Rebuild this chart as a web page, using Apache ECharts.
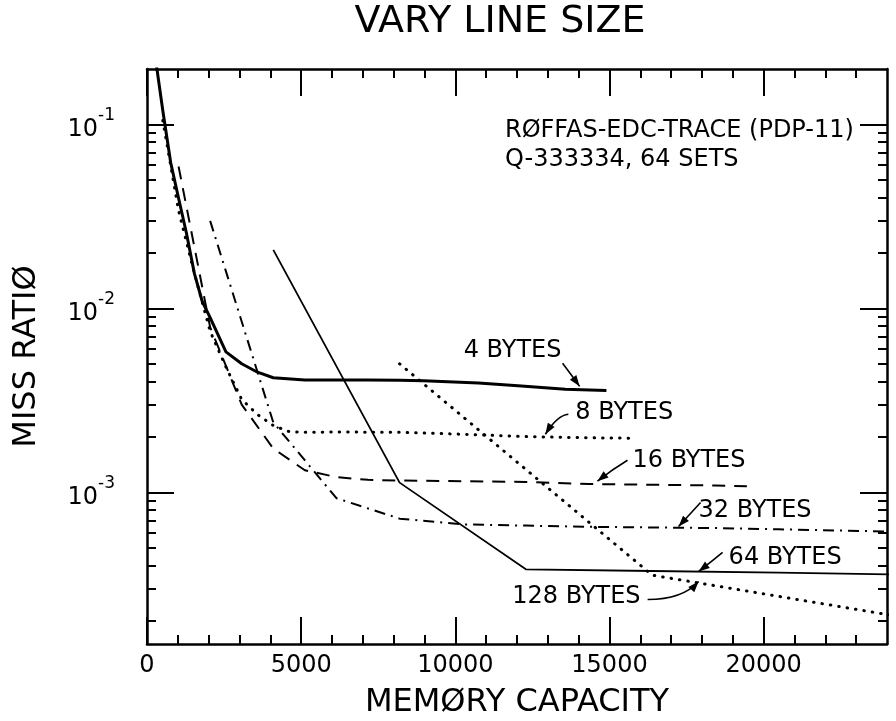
<!DOCTYPE html>
<html><head><meta charset="utf-8">
<script src="https://cdn.jsdelivr.net/npm/echarts@6/dist/echarts.min.js"></script>
<style>html,body{margin:0;padding:0;background:#fff}#c{width:896px;height:721px}</style>
</head><body><div id="c"></div>
<script>
// ---------- data ----------
const xMajorTicks = [0, 5000, 10000, 15000, 20000];
const xMinorTicks = [1000, 2000, 3000, 4000, 6000, 7000, 8000, 9000, 11000, 12000, 13000, 14000, 16000, 17000, 18000, 19000, 21000, 22000, 23000];
const yMajorTicks = [0.001, 0.01, 0.1];
const yMinorTicks = [0.0002, 0.0003, 0.0004, 0.0005, 0.0006, 0.0007, 0.0008, 0.0009,
                     0.002, 0.003, 0.004, 0.005, 0.006, 0.007, 0.008, 0.009,
                     0.02, 0.03, 0.04, 0.05, 0.06, 0.07, 0.08, 0.09];

const bytes4 = [[256,0.24],[512,0.119],[768,0.062],[1024,0.0397],[1280,0.0256],[1536,0.0155],[1792,0.0109],[2048,0.0089],[2560,0.0058],[3072,0.0050],[3584,0.0045],[4096,0.0042],[5120,0.00408],[6144,0.00408],[7168,0.00408],[8192,0.00407],[8960,0.00404],[10752,0.00393],[12032,0.0038],[13568,0.00364],[14900,0.00358]];
const bytes8 = [[512,0.105],[1024,0.034],[1536,0.0155],[2048,0.0075],[2560,0.0048],[3072,0.0032],[3584,0.00265],[4096,0.00231],[4608,0.00214],[5120,0.00212],[6144,0.00213],[8192,0.00212],[10240,0.00207],[12288,0.00201],[14336,0.00198],[15700,0.00197]];
const bytes16 = [[1024,0.059],[2048,0.0079],[3072,0.0030],[4096,0.00173],[5120,0.00132],[6144,0.00121],[7168,0.00117],[8192,0.00116],[10240,0.00115],[12288,0.00114],[14336,0.00111],[16384,0.0011],[18432,0.00109],[19456,0.00108]];
const bytes32 = [[2048,0.0299],[4096,0.0024],[6144,0.00093],[8192,0.00072],[10240,0.00067],[12288,0.00066],[14336,0.00065],[16384,0.000645],[18432,0.00064],[20480,0.00063],[22528,0.00062],[24576,0.00061]];
const bytes64 = [[4096,0.0208],[8192,0.00113],[12288,0.000382],[16384,0.000374],[20480,0.000366],[24576,0.000357]];
const bytes128 = [[8192,0.0050],[16384,0.000355],[24576,0.000209]];

const curveNames = ['4 BYTES','8 BYTES','16 BYTES','32 BYTES','64 BYTES','128 BYTES'];
const arrowTipX = [14030, 12920, 14610, 17240, 17890, 17890];
const arrowTipY = [0.00377, 0.00207, 0.00115, 0.000653, 0.000372, 0.000328];

// ---------- styles ----------
const FONT = 'DejaVu Sans';
const annStyle = [
  {tail:[-17,-23], ctrl:[-8,-11], text:[-67,-36], align:'center'},
  {tail:[23,-20], ctrl:[12,-19], text:[30,-21], align:'left'},
  {tail:[30,-21], ctrl:[15,-12], text:[35,-20], align:'left'},
  {tail:[22,-24], ctrl:[11,-12], text:[20,-16], align:'left'},
  {tail:[24,-19], ctrl:[12,-9], text:[30,-14], align:'left'},
  {tail:[-51,18], ctrl:[-16,18], text:[-58,15], align:'right'}
];

const YMIN = 1.5e-4, YMAX = 0.2, XMIN = 0, XMAX = 24000;

function axisLineOpt(show) {
  return {show:show, onZero:false, lineStyle:{color:'#000', width:2.5}};
}

// kind: 'major' (frame line + long ticks), 'minor' (short ticks), 'label' (labels + name only)
function yAx(pos, kind) {
  const ax = {
    type:'log', logBase:10, min:YMIN, max:YMAX, position:pos,
    axisLine: axisLineOpt(kind === 'major'),
    axisTick: kind === 'label' ? {show:false} :
      {show:true, inside:true, length: kind === 'major' ? 27 : 9,
       customValues: kind === 'major' ? yMajorTicks : yMinorTicks, lineStyle:{color:'#000', width:2}},
    axisLabel:{show:false},
    splitLine:{show:false}, minorTick:{show:false}, minorSplitLine:{show:false}
  };
  if (kind === 'label') {
    ax.axisLabel = {
      show:true, customValues: yMajorTicks, margin:32,
      formatter: function (v) { const e = Math.round(Math.log10(v)); return '{b|10}{s|' + e + '}'; },
      rich: {
        b:{fontSize:24, fontFamily:FONT, color:'#000', verticalAlign:'bottom'},
        s:{fontSize:17, fontFamily:FONT, color:'#000', verticalAlign:'bottom', padding:[0,0,18,0]}
      }
    };
    ax.name = 'MISS RATIØ';
    ax.nameLocation = 'middle';
    ax.nameGap = 104;
    ax.nameTextStyle = {fontSize:32, fontFamily:FONT, color:'#000'};
  }
  return ax;
}
function xAx(pos, kind) {
  const ax = {
    type:'value', min:XMIN, max:XMAX, interval:5000, position:pos,
    axisLine: axisLineOpt(kind === 'major'),
    axisTick: kind === 'label' ? {show:false} :
      {show:true, inside:true, length: kind === 'major' ? 27 : 9,
       customValues: kind === 'major' ? xMajorTicks : xMinorTicks, lineStyle:{color:'#000', width:2}},
    axisLabel:{show:false},
    splitLine:{show:false}
  };
  if (kind === 'label') {
    ax.axisLabel = {show:true, customValues: xMajorTicks, margin:10, fontSize:24, fontFamily:FONT, color:'#000',
                    formatter: function (v) { return String(v); }};
    ax.name = 'MEMØRY CAPACITY';
    ax.nameLocation = 'middle';
    ax.nameGap = 43;
    ax.nameTextStyle = {fontSize:32, fontFamily:FONT, color:'#000'};
  }
  return ax;
}

function lineSeries(name, data, lineStyle) {
  return {name, type:'line', data, showSymbol:false, symbol:'none', smooth:false, clip:true,
          xAxisIndex:0, yAxisIndex:0, lineStyle:Object.assign({color:'#000'}, lineStyle), silent:true, animation:false};
}

const annData = curveNames.map((n, i) => [arrowTipX[i], arrowTipY[i]]);

function renderAnn(params, api) {
  const i = params.dataIndex;
  const tip = api.coord([api.value(0), api.value(1)]);
  const s = annStyle[i];
  const tail = [tip[0] + s.tail[0], tip[1] + s.tail[1]];
  const ctrl = [tip[0] + s.ctrl[0], tip[1] + s.ctrl[1]];
  const ang = Math.atan2(tip[1] - ctrl[1], tip[0] - ctrl[0]);
  const L = 11, W = 4;
  const bx = tip[0] - L * Math.cos(ang), by = tip[1] - L * Math.sin(ang);
  const nx = -Math.sin(ang) * W, ny = Math.cos(ang) * W;
  return {type:'group', children:[
    {type:'bezierCurve', shape:{x1:tail[0], y1:tail[1], x2:tip[0], y2:tip[1], cpx1:ctrl[0], cpy1:ctrl[1]},
     style:{stroke:'#000', lineWidth:1.6, fill:'none'}},
    {type:'polygon', shape:{points:[[tip[0], tip[1]], [bx + nx, by + ny], [bx - nx, by - ny]]}, style:{fill:'#000'}},
    {type:'text', x: tip[0] + s.text[0], y: tip[1] + s.text[1],
     style:{text: curveNames[i], fontSize:24, fontFamily:FONT, fill:'#000',
            align:s.align, textAlign:s.align, verticalAlign:'middle', textVerticalAlign:'middle'}}
  ]};
}

const chart = echarts.init(document.getElementById('c'), null, {renderer:'canvas'});
chart.setOption({
  animation:false,
  backgroundColor:'#fff',
  grid:{left:147, right:9, top:69, bottom:77, containLabel:false, outerBoundsMode:'none'},
  xAxis:[xAx('bottom', 'major'), xAx('bottom', 'minor'), xAx('bottom', 'label'), xAx('top', 'major'), xAx('top', 'minor')],
  yAxis:[yAx('left', 'major'), yAx('left', 'minor'), yAx('left', 'label'), yAx('right', 'major'), yAx('right', 'minor')],
  graphic:[
    {type:'text', x:500, y:22, style:{text:'VARY LINE SIZE', fontSize:38, fontFamily:FONT, fill:'#000', align:'center', textAlign:'center', verticalAlign:'middle', textVerticalAlign:'middle'}},
    {type:'text', x:505, y:131, style:{text:'RØFFAS-EDC-TRACE (PDP-11)', fontSize:24, fontFamily:FONT, fill:'#000', align:'left', textAlign:'left', verticalAlign:'middle', textVerticalAlign:'middle'}},
    {type:'text', x:505, y:160, style:{text:'Q-333334, 64 SETS', fontSize:24, fontFamily:FONT, fill:'#000', align:'left', textAlign:'left', verticalAlign:'middle', textVerticalAlign:'middle'}}
  ],
  series:[
    lineSeries('4 BYTES', bytes4, {width:3, type:'solid'}),
    lineSeries('8 BYTES', bytes8, {width:3, type:[0.5, 8], cap:'round'}),
    lineSeries('16 BYTES', bytes16, {width:2, type:[13, 9]}),
    lineSeries('32 BYTES', bytes32, {width:2, type:[11, 6, 2, 6]}),
    lineSeries('64 BYTES', bytes64, {width:1.8, type:'solid'}),
    lineSeries('128 BYTES', bytes128, {width:3, type:[0.5, 8], cap:'round'}),
    {type:'custom', renderItem:renderAnn, data:annData, xAxisIndex:0, yAxisIndex:0, clip:false, silent:true, z:5}
  ]
});
</script>
</body></html>
